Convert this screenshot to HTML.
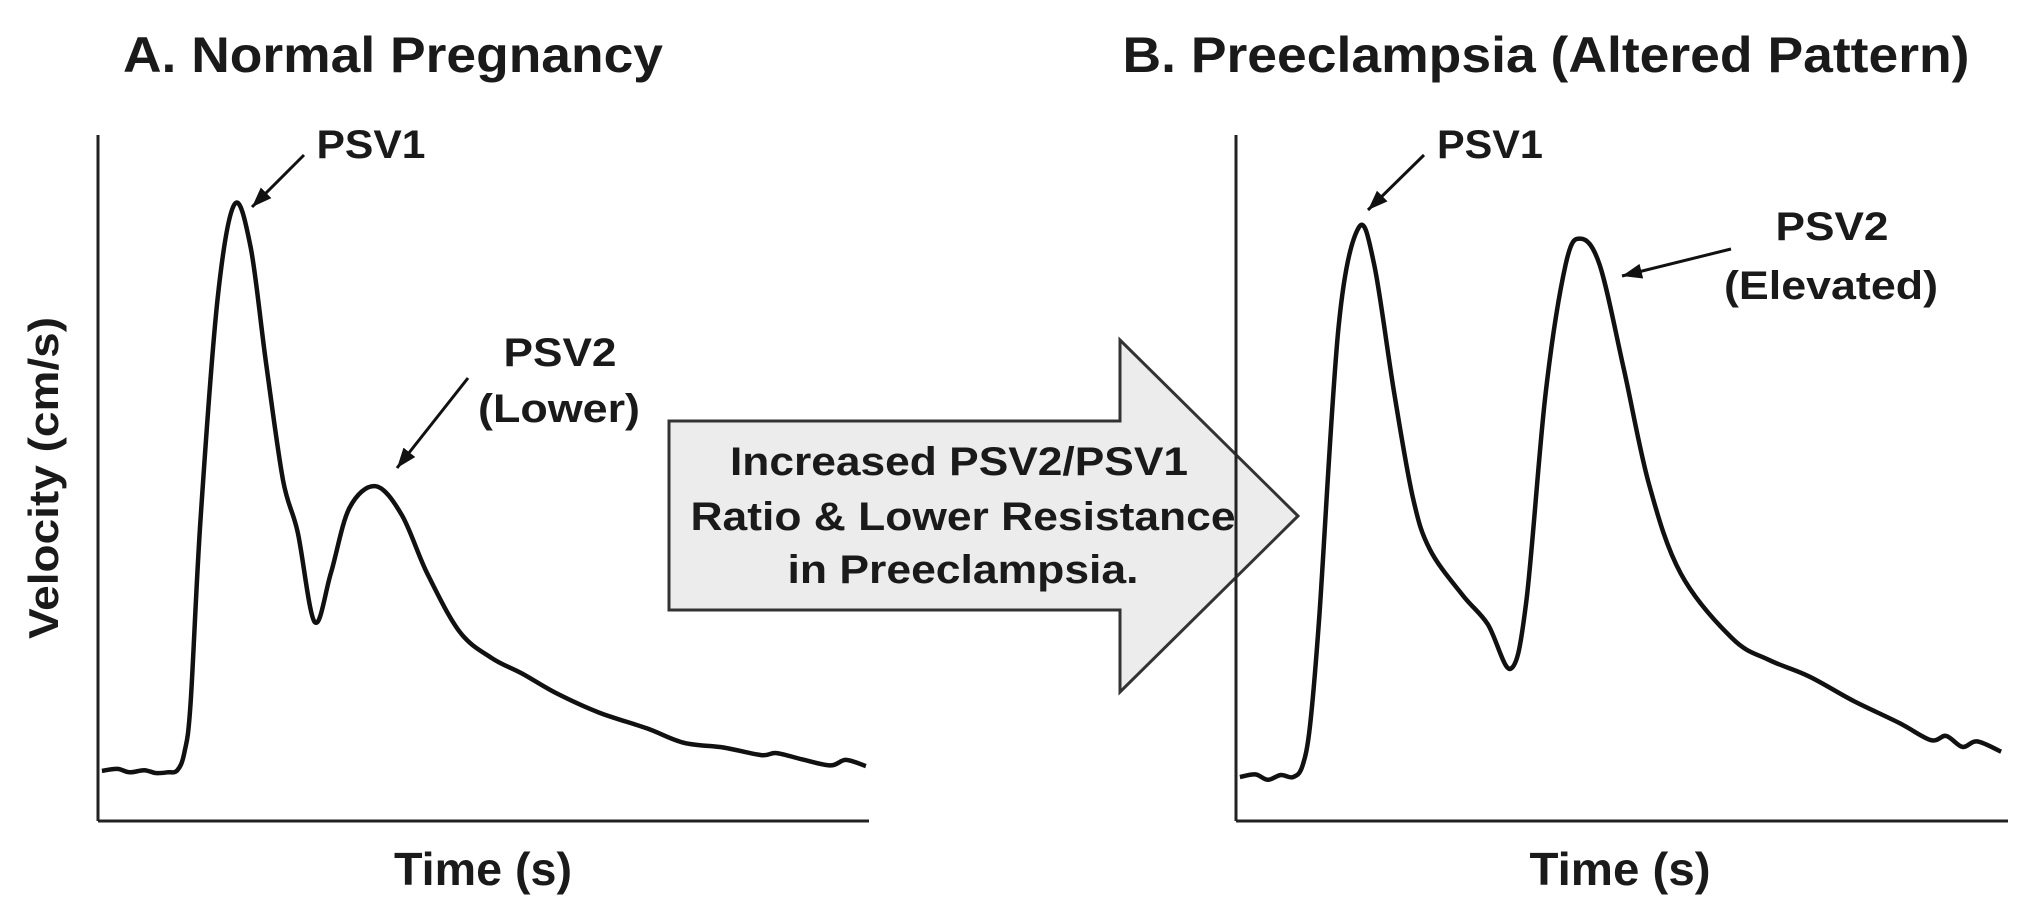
<!DOCTYPE html>
<html><head><meta charset="utf-8"><style>
html,body{margin:0;padding:0;background:#fff}
svg{display:block}
text{font-family:"Liberation Sans",Arial,sans-serif;font-weight:bold;fill:#1a1a1a}
</style></head><body>
<svg id="fig" width="2027" height="919" viewBox="0 0 2027 919">
<defs><marker id="ah" markerWidth="20" markerHeight="20" refX="16" refY="8" orient="auto" markerUnits="userSpaceOnUse" viewBox="0 0 16 16"><path d="M0,2 L16,8 L0,14 z" fill="#111"/></marker></defs>
<g>
<text x="393" y="72" font-size="50" text-anchor="middle" textLength="540" lengthAdjust="spacingAndGlyphs">A. Normal Pregnancy</text>
<line x1="98" y1="135" x2="98" y2="821" stroke="#222" stroke-width="3"/>
<line x1="98" y1="821" x2="869" y2="821" stroke="#222" stroke-width="3"/>
<text transform="translate(58,478) rotate(-90)" font-size="42" text-anchor="middle" textLength="322" lengthAdjust="spacingAndGlyphs">Velocity (cm/s)</text>
<text x="483" y="885" font-size="46" text-anchor="middle" textLength="178" lengthAdjust="spacingAndGlyphs">Time (s)</text>
<path id="curveA" fill="none" stroke="#111" stroke-width="4.5" stroke-linejoin="round"/>
<text x="371" y="158" font-size="40" text-anchor="middle" textLength="109" lengthAdjust="spacingAndGlyphs">PSV1</text>
<line x1="304" y1="155" x2="252" y2="207" stroke="#111" stroke-width="3" marker-end="url(#ah)"/>
<text x="560" y="366" font-size="40" text-anchor="middle" textLength="113" lengthAdjust="spacingAndGlyphs">PSV2</text>
<text x="559" y="422" font-size="40" text-anchor="middle" textLength="162" lengthAdjust="spacingAndGlyphs">(Lower)</text>
<line x1="468" y1="378" x2="397" y2="468" stroke="#111" stroke-width="3" marker-end="url(#ah)"/>
</g>
<g>
<path d="M669,421 L1120,421 L1120,340 L1298,516 L1120,692 L1120,610 L669,610 Z" fill="#ececec" stroke="#333" stroke-width="3"/>
<text x="959" y="475" font-size="40" text-anchor="middle" textLength="458" lengthAdjust="spacingAndGlyphs">Increased PSV2/PSV1</text>
<text x="963" y="530" font-size="40" text-anchor="middle" textLength="545" lengthAdjust="spacingAndGlyphs">Ratio &amp; Lower Resistance</text>
<text x="963" y="583" font-size="40" text-anchor="middle" textLength="351" lengthAdjust="spacingAndGlyphs">in Preeclampsia.</text>
</g>
<g>
<text x="1546" y="72" font-size="50" text-anchor="middle" textLength="847" lengthAdjust="spacingAndGlyphs">B. Preeclampsia (Altered Pattern)</text>
<line x1="1236" y1="135" x2="1236" y2="821" stroke="#222" stroke-width="3"/>
<line x1="1236" y1="821" x2="2008" y2="821" stroke="#222" stroke-width="3"/>
<text x="1620" y="885" font-size="46" text-anchor="middle" textLength="181" lengthAdjust="spacingAndGlyphs">Time (s)</text>
<path id="curveB" fill="none" stroke="#111" stroke-width="4.5" stroke-linejoin="round"/>
<text x="1490" y="158" font-size="40" text-anchor="middle" textLength="106" lengthAdjust="spacingAndGlyphs">PSV1</text>
<line x1="1424" y1="155" x2="1368" y2="210" stroke="#111" stroke-width="3" marker-end="url(#ah)"/>
<text x="1832" y="240" font-size="40" text-anchor="middle" textLength="113" lengthAdjust="spacingAndGlyphs">PSV2</text>
<text x="1831" y="299" font-size="40" text-anchor="middle" textLength="214" lengthAdjust="spacingAndGlyphs">(Elevated)</text>
<line x1="1731" y1="249" x2="1622" y2="276" stroke="#111" stroke-width="3" marker-end="url(#ah)"/>
</g>
</svg>
<script>
const timeA=[0.5,2.5,4.1,6,7.5,9,10.3,11.2,12,13.3,15.5,17.7,19.8,21.8,24,25.9,28.1,30.2,32.6,36,39.4,42.7,46.9,51,55,59.5,65,71.2,76,81.2,86,88,91.3,95,97,99.6];
const velA=[7.3,7.6,7.1,7.4,7.0,7.1,7.4,10,17,43.9,76,89.9,83.6,66.7,49.7,42.1,29,36.1,45.6,48.8,44.6,36.1,27.6,23.8,21.5,18.6,15.8,13.5,11.4,10.7,9.6,9.9,9.0,8.1,8.9,8.0];
const timeB=[0.5,2.5,4.1,5.8,7.4,8.6,9.6,10.8,13.3,15.9,17.9,20.5,22.9,25.1,29.3,32.6,35.6,37.6,40.1,42.7,44.6,47.1,50.2,53.5,57.6,64.3,69,74.2,80,85.9,90,92,94.1,96,99.1];
const velB=[6.4,6.8,6.0,6.7,6.4,8,14,30,72.2,86.5,81.1,62.3,47.2,39.6,33,28.7,22.2,32,62.3,81.1,84.9,81.1,66.1,49.1,36.1,26.6,23.5,21.1,17.5,14.3,11.8,12.4,10.8,11.6,10.1];
function xA(t){return 98+t*7.71;} function xB(t){return 1236+t*7.72;}
function yV(v){return 821-v*6.86;}
function path(ts,vs,xf){
  const p=ts.map((t,i)=>[xf(t),yV(vs[i])]);
  let d='M'+p[0][0].toFixed(1)+','+p[0][1].toFixed(1);
  for(let i=0;i<p.length-1;i++){
    const p0=p[Math.max(0,i-1)],p1=p[i],p2=p[i+1],p3=p[Math.min(p.length-1,i+2)];
    const c1=[p1[0]+(p2[0]-p0[0])/6,p1[1]+(p2[1]-p0[1])/6];
    const c2=[p2[0]-(p3[0]-p1[0])/6,p2[1]-(p3[1]-p1[1])/6];
    d+=' C'+c1.map(n=>n.toFixed(1)).join(',')+' '+c2.map(n=>n.toFixed(1)).join(',')+' '+p2.map(n=>n.toFixed(1)).join(',');
  }
  return d;
}
document.getElementById('curveA').setAttribute('d',path(timeA,velA,xA));
document.getElementById('curveB').setAttribute('d',path(timeB,velB,xB));
</script>
</body></html>
